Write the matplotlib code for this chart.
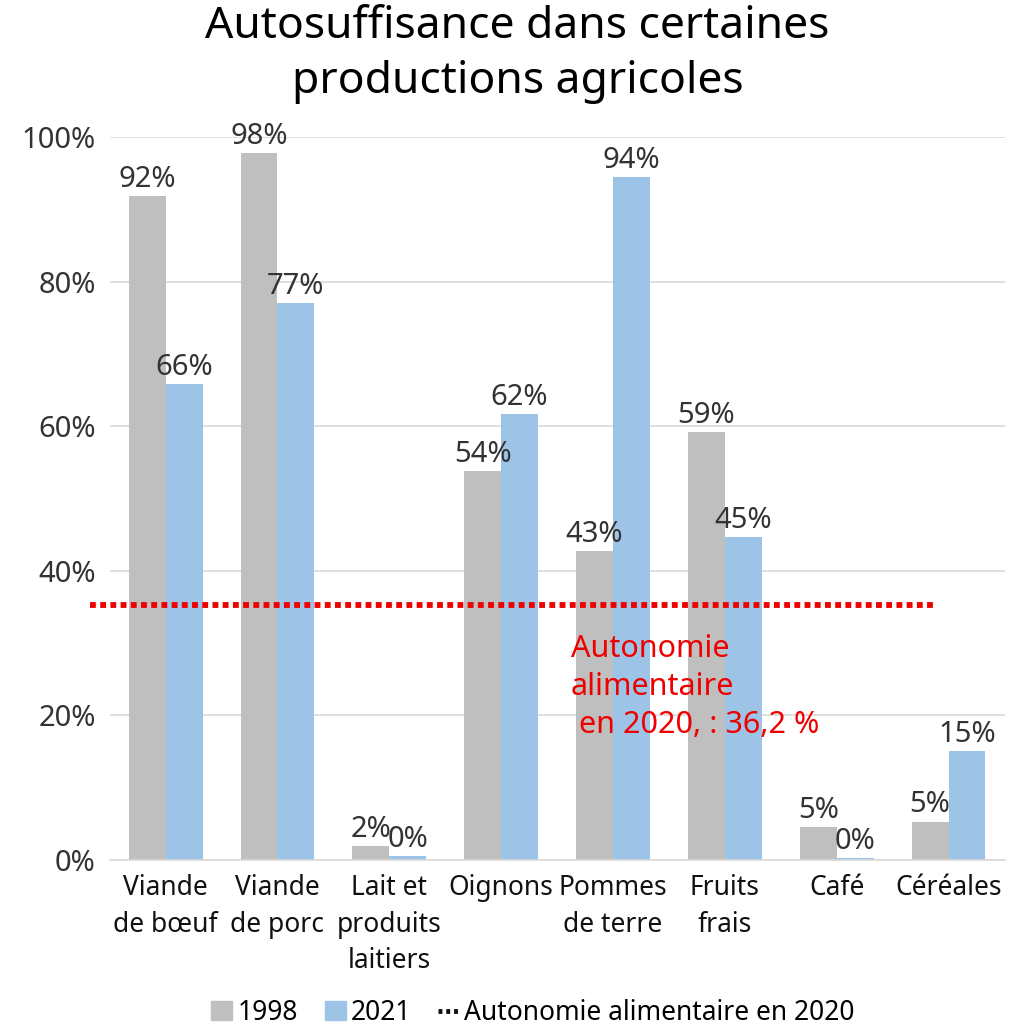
import numpy as np
import matplotlib.pyplot as plt
from matplotlib.patches import Patch
from matplotlib.lines import Line2D

categories = ["Viande\nde bœuf", "Viande\nde porc", "Lait et\nproduits\nlaitiers", "Oignons",
              "Pommes\nde terre", "Fruits\nfrais", "Café", "Céréales"]
v1998 = [91.8, 97.8, 1.9, 53.8, 42.7, 59.2, 4.6, 5.3]
v2021 = [65.8, 77.0, 0.55, 61.7, 94.5, 44.7, 0.3, 15.1]
lab1998 = ["92%", "98%", "2%", "54%", "43%", "59%", "5%", "5%"]
lab2021 = ["66%", "77%", "0%", "62%", "94%", "45%", "0%", "15%"]
autonomie = 35.3

plt.rcParams['font.family'] = ['Noto Sans', 'DejaVu Sans']
fig = plt.figure(figsize=(10.25, 10.32), dpi=100)
ax = fig.add_axes([0.107, 0.1667, 0.873, 0.7005])

x = np.arange(len(categories))
w = 0.33
c1, c2 = "#BFBFBF", "#9DC3E6"
ax.bar(x - w / 2, v1998, w, color=c1, zorder=2)
ax.bar(x + w / 2, v2021, w, color=c2, zorder=2)

fs = 21
for i in range(len(x)):
    ax.text(x[i] - w / 2, v1998[i] + 0.3, lab1998[i], ha="center", va="bottom", fontsize=fs, color="#333333", zorder=3)
    ax.text(x[i] + w / 2, v2021[i] + 0.3, lab2021[i], ha="center", va="bottom", fontsize=fs, color="#333333", zorder=3)

ax.plot([-0.68, 6.87], [autonomie, autonomie], color="#EE0000", lw=4.2,
        linestyle=(0, (1.0, 0.75)), dash_capstyle="butt", clip_on=False, zorder=4)
ax.text(3.62, 31.2, "Autonomie\nalimentaire\n en 2020, : 36,2 %", color="#EE0000", fontsize=22,
        ha="left", va="top", linespacing=1.34, zorder=5)

ax.set_xlim(-0.5, 7.5)
ax.set_ylim(0, 100)
ax.set_yticks(range(0, 101, 20))
ax.set_yticklabels([f"{t}%" for t in range(0, 101, 20)], fontsize=fs, color="#333333")
ax.set_xticks(x)
ax.set_xticklabels(categories, fontsize=19, color="#111111", linespacing=1.42)
ax.tick_params(axis="x", length=0, pad=10)
ax.tick_params(axis="y", length=0, pad=10)
ax.grid(axis="y", color="#D9D9D9", lw=1.2, zorder=0)
for s in ["top", "right", "left"]:
    ax.spines[s].set_visible(False)
ax.spines["bottom"].set_color("#D9D9D9")
ax.spines["bottom"].set_linewidth(1.2)

fig.suptitle("Autosuffisance dans certaines\nproductions agricoles", fontsize=32, y=0.995, x=0.505, linespacing=1.32)

handles = [Patch(color=c1), Patch(color=c2),
           Line2D([0], [0], color="#111111", lw=3.5, linestyle=(0, (0.8, 0.8)))]
fig.legend(handles, ["1998", "2021", "Autonomie alimentaire en 2020"], loc="lower center",
           bbox_to_anchor=(0.52, -0.018), ncol=3, frameon=False, fontsize=19,
           handlelength=0.8, handletextpad=0.2, columnspacing=1.0)

fig.savefig("out.png", dpi=100)
